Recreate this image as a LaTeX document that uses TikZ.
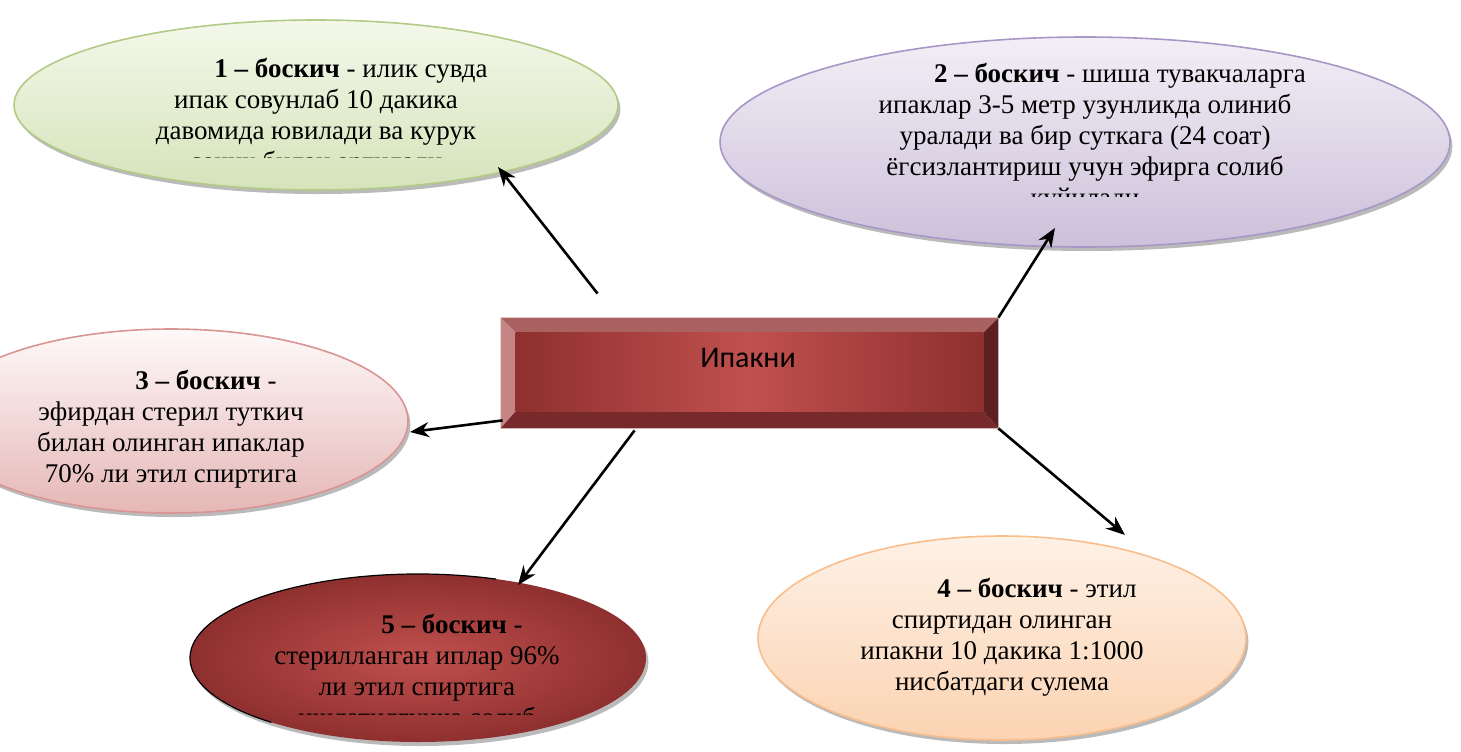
\documentclass[tikz,border=0pt]{standalone}
\usepackage{fontspec}
\setmainfont{Liberation Serif}
\newfontfamily\calibri{Carlito}
\usetikzlibrary{shapes.geometric}
\usetikzlibrary{shadows}
\usetikzlibrary{arrows.meta}

\definecolor{greentop}{HTML}{F4F8EA}
\definecolor{greenbot}{HTML}{D5E3BA}
\definecolor{greenline}{HTML}{B2CB86}
\definecolor{lilactop}{HTML}{F2EFF6}
\definecolor{lilacbot}{HTML}{CCC0DA}
\definecolor{lilacline}{HTML}{A797C6}
\definecolor{rosetop}{HTML}{FEF9F9}
\definecolor{rosebot}{HTML}{E5B7B6}
\definecolor{roseline}{HTML}{D99594}
\definecolor{peachtop}{HTML}{FEF1E6}
\definecolor{peachbot}{HTML}{FBD3B2}
\definecolor{peachline}{HTML}{F9BE8C}
\definecolor{wineout}{HTML}{8E302F}
\definecolor{winein}{HTML}{C0504D}
\definecolor{bevellight}{HTML}{C48584}
\definecolor{beveltop}{HTML}{AA6261}
\definecolor{beveldark}{HTML}{5C2020}
\definecolor{bevelbot}{HTML}{772A29}

\newcommand{\bosqich}[1]{\hspace*{35pt}\textbf{#1 – боскич}}

\tikzset{
  stage/.style={ellipse, inner sep=0pt, line width=0.8pt,
    drop shadow={shadow xshift=1.2pt, shadow yshift=-2pt, fill=black!60, opacity=.45}},
  stagetext/.style={align=center, inner sep=0pt, font=\fontsize{13.5}{15.5}\selectfont},
  link/.style={->, line width=1.3pt},
}

\begin{document}
\begin{tikzpicture}[x=0.5pt, y=-0.5pt, >={Stealth[length=9.5pt, width=7.5pt]}]
  \useasboundingbox (0,0) rectangle (1461,751);

  \node[stage, draw=greenline, top color=greentop, bottom color=greenbot,
    minimum width=302pt, minimum height=85pt] (b1) at (316,105) {};
  \node[stage, draw=lilacline, top color=lilactop, bottom color=lilacbot,
    minimum width=365pt, minimum height=105pt] (b2) at (1085,142) {};
  \node[stage, draw=roseline, top color=rosetop, bottom color=rosebot,
    minimum width=237pt, minimum height=92pt] (b3) at (171,421) {};
  \node[stage, draw=peachline, top color=peachtop, bottom color=peachbot,
    minimum width=244pt, minimum height=102pt] (b4) at (1002,638) {};
  \node[stage, draw=none, shading=radial, inner color=winein, outer color=wineout,
    minimum width=228pt, minimum height=84pt] (b5) at (418,658) {};
  \draw[black, line width=0.6pt] (b5.center) ++(-70:228 and 84)
    arc[start angle=-70, end angle=-230, x radius=228, y radius=84];

  \begin{scope}
    \clip (0,0) rectangle (700,157);
    \node[stagetext] (t1) at (316,117) {\bosqich{1} - илик сувда\\
      ипак совунлаб 10 дакика\\ давомида ювилади ва курук\\ сочик билан артилади};
  \end{scope}
  \begin{scope}
    \clip (700,0) rectangle (1461,196);
    \node[stagetext] (t2) at (1085,138) {\bosqich{2} - шиша тувакчаларга\\
      ипаклар 3-5 метр узунликда олиниб\\ уралади ва бир суткага (24 соат)\\
      ёгсизлантириш учун эфирга солиб\\ куйилади};
  \end{scope}
  \node[stagetext] (t3) at (171,429) {\bosqich{3} -\\ эфирдан стерил туткич\\
    билан олинган ипаклар\\ 70\% ли этил спиртига};
  \node[stagetext] (t4) at (1002,637) {\bosqich{4} - этил\\ спиртидан олинган\\
    ипакни 10 дакика 1:1000\\ нисбатдаги сулема};
  \begin{scope}
    \clip (0,560) rectangle (700,714);
    \node[stagetext] (t5) at (417,673) {\bosqich{5} -\\ стерилланган иплар 96\%\\
      ли этил спиртига\\ ишлатилгунча солиб};
  \end{scope}

  \node[minimum width=248.5pt, minimum height=55pt, inner sep=0pt] (ipak) at (749.5,373) {};
  \coordinate (inw) at ([shift={(15,15)}]ipak.north west);
  \coordinate (ine) at ([shift={(-15,15)}]ipak.north east);
  \coordinate (isw) at ([shift={(15,-17)}]ipak.south west);
  \coordinate (ise) at ([shift={(-15,-17)}]ipak.south east);
  \fill[beveltop] (ipak.north west) -- (ipak.north east) -- (ine) -- (inw) -- cycle;
  \fill[bevellight] (ipak.north west) -- (inw) -- (isw) -- (ipak.south west) -- cycle;
  \fill[beveldark] (ipak.north east) -- (ipak.south east) -- (ise) -- (ine) -- cycle;
  \fill[bevelbot] (ipak.south west) -- (isw) -- (ise) -- (ipak.south east) -- cycle;
  \shade[left color=wineout, right color=wineout, middle color=winein] (inw) rectangle (ise);
  \node[font=\calibri\fontsize{15}{18}\selectfont, inner sep=0pt] (ipaktxt) at (748,358) {Ипакни};

  \coordinate (s1) at ([shift={(97,-24)}]ipak.north west);
  \coordinate (s3) at ([shift={(2,-8)}]ipak.south west);
  \coordinate (s4) at ([shift={(134,2)}]ipak.south west);
  \coordinate (e1) at ([shift={(182,62)}]b1.center);
  \coordinate (e2) at ([shift={(-30,86)}]b2.center);
  \coordinate (e3) at ([shift={(239,11)}]b3.center);
  \coordinate (e4) at ([shift={(100,-73)}]b5.center);
  \coordinate (e5) at ([shift={(123,-103)}]b4.center);

  \draw[link] (s1) -- (e1);
  \draw[link] (ipak.north east) -- (e2);
  \draw[link] (s3) -- (e3);
  \draw[link] (s4) -- (e4);
  \draw[link] (ipak.south east) -- (e5);
\end{tikzpicture}
\end{document}
